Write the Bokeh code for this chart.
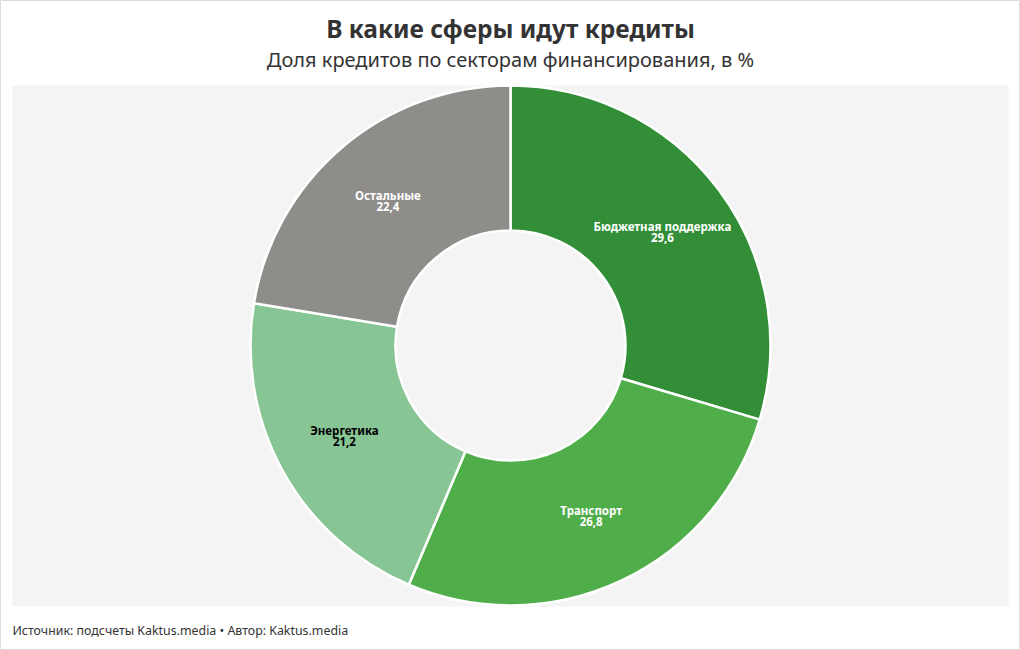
import numpy as np
from bokeh.plotting import figure
from bokeh.models import Range1d, ColumnDataSource
from bokeh.core.properties import value
from bokeh.embed import file_html
from bokeh.resources import INLINE

title = "В какие сферы идут кредиты"
subtitle = "Доля кредитов по секторам финансирования, в %"
footer = "Источник: подсчеты Kaktus.media • Автор: Kaktus.media"

sectors = ["Бюджетная поддержка", "Транспорт", "Энергетика", "Остальные"]
shares = [29.6, 26.8, 21.2, 22.4]
share_labels = ["29,6", "26,8", "21,2", "22,4"]
colors = ["#338f37", "#4fae4a", "#88c595", "#8f8d8a"]
text_colors = ["#ffffff", "#ffffff", "#000000", "#ffffff"]

W, H = 1020, 650
cx, cy = 510, H - 345
r_in, r_out = 115, 260

vals = np.array(shares)
frac = vals / vals.sum()
cum = np.concatenate([[0], np.cumsum(frac)])
start = np.pi / 2 - cum[:-1] * 2 * np.pi
end = np.pi / 2 - cum[1:] * 2 * np.pi
mid = (start + end) / 2
r_lab = (r_in + r_out) / 2 + 2
lx = cx + r_lab * np.cos(mid)
ly = cy + r_lab * np.sin(mid)

src = ColumnDataSource(dict(
    start=start, end=end, color=colors, name=sectors, val=share_labels,
    lx=lx, ly_name=ly + 6, ly_val=ly - 5, tcolor=text_colors,
    x=[cx] * 4, y=[cy] * 4,
))

p = figure(width=W, height=H, x_range=Range1d(0, W), y_range=Range1d(0, H),
           output_backend="svg", toolbar_location=None, min_border=0,
           x_axis_location=None, y_axis_location=None)
p.grid.visible = False
p.outline_line_color = "#dcdcdc"
p.outline_line_width = 1
p.background_fill_color = "#ffffff"
p.border_fill_color = "#ffffff"

p.quad(left=[12], right=[W - 12], bottom=[H - 606], top=[H - 85],
       fill_color="#f4f4f4", line_color=None)

p.annular_wedge(x="x", y="y", inner_radius=r_in, outer_radius=r_out,
                start_angle="start", end_angle="end", direction="clock",
                fill_color="color", line_color="#ffffff", line_width=2.5,
                source=src)

font = value("Noto Sans")
p.text(x="lx", y="ly_name", text="name", text_color="tcolor",
       text_font=font, text_font_style="bold", text_font_size="11.5px",
       text_align="center", text_baseline="middle", source=src)
p.text(x="lx", y="ly_val", text="val", text_color="tcolor",
       text_font=font, text_font_style="bold", text_font_size="11.5px",
       text_align="center", text_baseline="middle", source=src)

p.text(x=[W / 2], y=[H - 28], text=[title], text_font=font,
       text_font_style="bold", text_font_size="24.5px", text_color="#333333",
       text_align="center", text_baseline="middle")
p.text(x=[W / 2], y=[H - 59], text=[subtitle], text_font=font,
       text_font_size="20px", text_color="#333333",
       text_align="center", text_baseline="middle")
p.text(x=[12], y=[H - 630], text=[footer], text_font=font,
       text_font_size="12.4px", text_color="#333333",
       text_align="left", text_baseline="middle")

open("out.html", "w").write(file_html(p, INLINE))
